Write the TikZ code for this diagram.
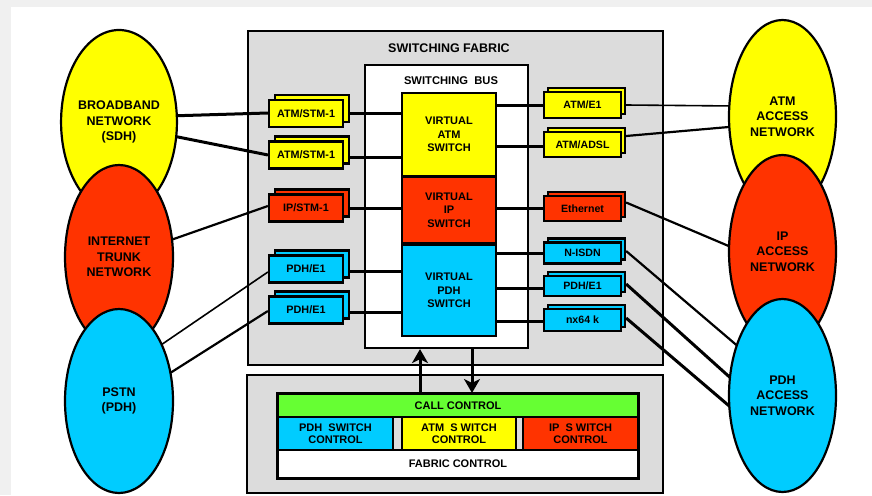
\documentclass[tikz,border=0pt]{standalone}
\usepackage{fontspec}
\setmainfont{Liberation Sans}
\usetikzlibrary{shapes.geometric,arrows.meta,calc}
\pgfdeclarelayer{back}
\pgfdeclarelayer{links}
\pgfsetlayers{back,links,main}
\definecolor{cyel}{HTML}{FFFF00}
\definecolor{cred}{HTML}{FF3300}
\definecolor{cblue}{HTML}{00CCFF}
\definecolor{cgreen}{HTML}{66FF33}
\definecolor{cgray}{HTML}{DCDCDC}
\definecolor{cpage}{HTML}{F0F0F0}

\begin{document}
\begin{tikzpicture}[x=1pt,y=-1pt,
  net/.style={ellipse, draw, line width=2.2pt, inner sep=0pt, align=center,
    font=\fontsize{12.5}{15.5}\selectfont\bfseries},
  lnet/.style={net, minimum width=108pt, minimum height=184pt},
  rnet/.style={net, minimum width=107pt, minimum height=193pt},
  lport/.style={draw, line width=2.2pt, minimum width=74pt, minimum height=27pt,
    inner sep=0pt, font=\fontsize{10.8}{12}\selectfont\bfseries},
  rport/.style={draw, line width=2.2pt, minimum width=77pt, minimum height=24pt,
    inner sep=0pt, font=\fontsize{10.6}{12}\selectfont\bfseries},
  vswitch/.style={draw, line width=2.2pt, minimum width=94pt, inner sep=0pt, align=center,
    font=\fontsize{11}{13.5}\selectfont\bfseries},
  ctlcell/.style={draw, line width=2pt, inner sep=0pt, align=center,
    font=\fontsize{11}{12.5}\selectfont\bfseries},
  title/.style={font=\fontsize{12.5}{14}\selectfont\bfseries},
  thickline/.style={line width=3pt},
  midline/.style={line width=2.2pt},
  thinline/.style={line width=1.6pt},
  flow/.style={line width=3pt, -{Stealth[length=14pt,width=16pt,inset=4pt]}}
]
\useasboundingbox (0,0) rectangle (872,495);

% page and frames
\begin{pgfonlayer}{back}
  \fill[cpage] (0,0) rectangle (872,495);
  \fill[white] (11,7) rectangle (872,495);
  \draw[line width=2.6pt, fill=cgray] (248,31) rectangle (663,365);
  \draw[line width=2.2pt, fill=white] (365,65) rectangle (528,348);
  \draw[line width=2.6pt, fill=cgray] (247,375) rectangle (663,493);
  \draw[line width=2.6pt, fill=cgray] (278,394) rectangle (638,478);
\end{pgfonlayer}

\node[title] (fabtitle) at (449,48) {SWITCHING FABRIC};
\node[font=\fontsize{11.2}{13}\selectfont\bfseries] (bustitle) at (451,81) {SWITCHING~~BUS};

% virtual switches
\node[vswitch, fill=cyel, minimum height=83pt] (vatm) at (449,134.5) {VIRTUAL\\ATM\\SWITCH};
\node[vswitch, fill=cred, minimum height=66pt] (vip) at (449,210) {VIRTUAL\\IP\\SWITCH};
\node[vswitch, fill=cblue, minimum height=91pt] (vpdh) at (449,290.5) {VIRTUAL\\PDH\\SWITCH};

% trunk side ports (stacked cards)
\node[lport, fill=cyel] (ls1b) at (312,108.5) {};
\node[lport, fill=cyel] (ls1) at (306,113.5) {ATM/STM-1};
\node[lport, fill=cyel] (ls2b) at (312,150) {};
\node[lport, fill=cyel] (ls2) at (306,155) {ATM/STM-1};
\node[lport, fill=cred] (lipb) at (312,203) {};
\node[lport, fill=cred] (lip) at (306,208) {IP/STM-1};
\node[lport, fill=cblue] (lp1b) at (312,264) {};
\node[lport, fill=cblue] (lp1) at (306,269) {PDH/E1};
\node[lport, fill=cblue] (lp2b) at (312,305) {};
\node[lport, fill=cblue] (lp2) at (306,310) {PDH/E1};

% access side ports (stacked cards)
\node[rport, fill=cyel, minimum height=26pt] (r1b) at (586.5,101) {};
\node[rport, fill=cyel, minimum height=26pt] (r1) at (582.5,105) {ATM/E1};
\node[rport, fill=cyel, minimum height=25pt] (r2b) at (586.5,140.5) {};
\node[rport, fill=cyel, minimum height=25pt] (r2) at (582.5,144.5) {ATM/ADSL};
\node[rport, fill=cred, minimum height=25pt] (r3b) at (586.5,204.5) {};
\node[rport, fill=cred, minimum height=25pt] (r3) at (582.5,208.5) {Ethernet};
\node[rport, fill=cblue, minimum height=21pt] (r4b) at (586.5,249) {};
\node[rport, fill=cblue, minimum height=21pt] (r4) at (582.5,253) {N-ISDN};
\node[rport, fill=cblue, minimum height=20pt] (r5b) at (586.5,282) {};
\node[rport, fill=cblue, minimum height=20pt] (r5) at (582.5,286) {PDH/E1};
\node[rport, fill=cblue, minimum height=22pt] (r6b) at (586.5,316) {};
\node[rport, fill=cblue, minimum height=22pt] (r6) at (582.5,320) {nx64 k};

% networks
\node[lnet, fill=cyel] (bbn) at (119,122) {BROADBAND\\NETWORK\\(SDH)};
\node[lnet, fill=cred] (itn) at (119,257) {INTERNET\\TRUNK\\NETWORK};
\node[lnet, fill=cblue] (pstn) at (119,401) {PSTN\\(PDH)};
\node[rnet, fill=cyel] (atmacc) at (782.5,116.5) {ATM\\ACCESS\\NETWORK};
\node[rnet, fill=cred] (ipacc) at (782.5,251.5) {IP\\ACCESS\\NETWORK};
\node[rnet, fill=cblue] (pdhacc) at (782.5,395.5) {PDH\\ACCESS\\NETWORK};

% control block
\node[ctlcell, fill=cgreen, minimum width=360pt, minimum height=23pt] (callctl) at (458,405.5) {CALL CONTROL};
\node[ctlcell, fill=cblue, minimum width=115pt, minimum height=33pt] (pdhctl) at (335.5,433.5) {PDH~~SWITCH\\CONTROL};
\node[ctlcell, fill=cyel, minimum width=114pt, minimum height=33pt] (atmctl) at (459,433.5) {ATM~~S WITCH\\CONTROL};
\node[ctlcell, fill=cred, minimum width=115pt, minimum height=33pt] (ipctl) at (580.5,433.5) {IP~~S WITCH\\CONTROL};
\node[ctlcell, fill=white, minimum width=360pt, minimum height=28pt] (fabctl) at (458,464) {FABRIC CONTROL};
\draw[line width=2.6pt] (callctl.north west) rectangle (fabctl.south east);

\coordinate (upx) at (420,0);
\coordinate (downx) at (472,0);

\begin{pgfonlayer}{links}
  % ports to virtual switches
  \draw[thickline] (ls1.east) -- (ls1.east -| vatm.west);
  \draw[thickline] ($(ls2.east)+(0,2)$) -- ($(ls2.east -| vatm.west)+(0,2)$);
  \draw[thickline] (lip.east) -- (lip.east -| vip.west);
  \draw[thickline] ($(lp1.east)+(0,2)$) -- ($(lp1.east -| vpdh.west)+(0,2)$);
  \draw[thickline] ($(lp2.east)+(0,2)$) -- ($(lp2.east -| vpdh.west)+(0,2)$);
  \draw[thickline] (r1.west -| vatm.east) -- (r1.west);
  \draw[thickline] ($(r2.west -| vatm.east)+(0,2)$) -- ($(r2.west)+(0,2)$);
  \draw[thickline] (r3.west -| vip.east) -- (r3.west);
  \draw[thickline] (r4.west -| vpdh.east) -- (r4.west);
  \draw[thickline] ($(r5.west -| vpdh.east)+(0,2)$) -- ($(r5.west)+(0,2)$);
  \draw[thickline] ($(r6.west -| vpdh.east)+(0,1)$) -- ($(r6.west)+(0,1)$);

  % trunk networks to ports
  \draw[thickline] ($(bbn.center)+(49,-6)$) -- ($(ls1.west)+(0,-0.5)$);
  \draw[thickline] ($(bbn.center)+(49,13)$) -- (ls2.west);
  \draw[midline] ($(itn.center)+(49,-16)$) -- ($(lip.west)+(0,-2)$);
  \draw[thinline] ($(pstn.center)+(39,-54)$) -- ($(lp1.west)+(0,3)$);
  \draw[midline] ($(pstn.center)+(48,-26)$) -- ($(lp2.west)+(0,1)$);

  % ports to access networks
  \draw[thinline] (r1b.east |- r1.east) -- ($(atmacc.center)+(-48,-10.5)$);
  \draw[midline] ($(r2b.east)+(0,-4.5)$) -- ($(atmacc.center)+(-48,10)$);
  \draw[midline] ($(r3b.east)+(0,-2)$) -- ($(ipacc.center)+(-48,-3)$);
  \draw[midline] ($(r4b.east)+(0,2)$) -- ($(pdhacc.center)+(-42,-47)$);
  \draw[thickline] ($(r5b.east)+(0,2)$) -- ($(pdhacc.center)+(-48,-14)$);
  \draw[thickline] ($(r6b.east)+(0,2)$) -- ($(pdhacc.center)+(-48,15)$);

  % signalling between fabric and control
  \draw[flow] (upx |- callctl.north) -- ($(upx |- vpdh.south)+(0,12)$);
  \draw[flow] ($(downx |- vpdh.south)+(0,12)$) -- (downx |- callctl.north);
\end{pgfonlayer}
\end{tikzpicture}
\end{document}
